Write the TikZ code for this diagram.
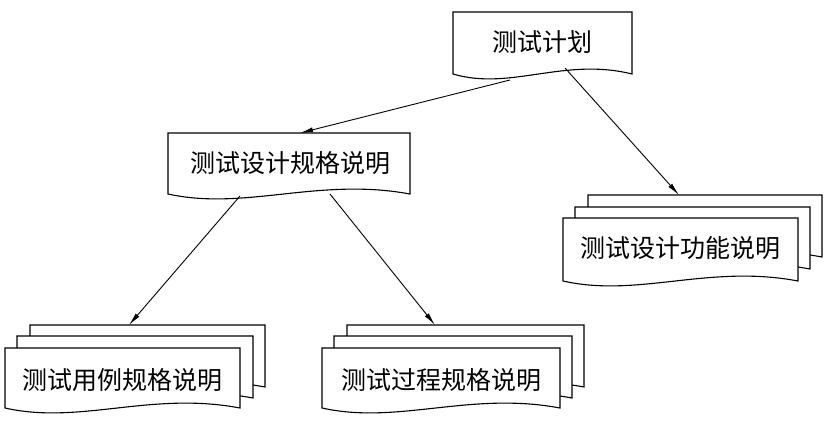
\documentclass[tikz,border=0pt]{standalone}
\usepackage{fontspec}
\newfontfamily\cjk{Noto Sans CJK SC}
\usetikzlibrary{arrows.meta}

% document page: left, top, right, bottom
\newcommand{\docpage}[4]{%
\draw [fill=white] (#1,#4) -- (#1,#2) -- (#3,#2) -- (#3,#4)
  .. controls ({#1+0.62*(#3-#1)},{#4-17}) and ({#1+0.32*(#3-#1)},{#4+17}) .. (#1,#4) -- cycle;}

\tikzset{
  label/.style={font=\cjk\fontsize{25}{29}\selectfont, inner sep=0pt},
  link/.style={-{Latex[length=13pt,width=5pt]}, line width=0.9pt},
}

\begin{document}
\begin{tikzpicture}[x=1pt,y=-1pt,line width=1.1pt]
\useasboundingbox (0,0) rectangle (826,426);

%plan
\docpage{453}{12}{632}{74}
\node [label] (plan) at (542,42) {测试计划};
%design specification
\docpage{168}{133}{410}{194}
\node [label] (design) at (290,163) {测试设计规格说明};
%function description
\docpage{588}{195}{822}{257}
\docpage{575}{207}{810}{269}
\docpage{563}{218}{798}{281}
\node [label] (func) at (680,248) {测试设计功能说明};
%case specification
\docpage{30}{325}{265}{387}
\docpage{17}{336}{253}{398}
\docpage{5}{348}{240}{408}
\node [label] (case) at (122,380) {测试用例规格说明};
%procedure specification
\docpage{347}{325}{584}{387}
\docpage{334}{336}{572}{398}
\docpage{322}{348}{560}{408}
\node [label] (proc) at (441,380) {测试过程规格说明};

\coordinate (plan-l) at (510,80);
\coordinate (plan-r) at (565,68);
\coordinate (design-t) at (300,133);
\coordinate (design-l) at (240,196);
\coordinate (design-r) at (330,194);
\coordinate (func-t) at (679,195);
\coordinate (case-t) at (129,325);
\coordinate (proc-t) at (435,325);
\draw [link] (plan-l) -- (design-t);
\draw [link] (plan-r) -- (func-t);
\draw [link] (design-l) -- (case-t);
\draw [link] (design-r) -- (proc-t);
\end{tikzpicture}
\end{document}
